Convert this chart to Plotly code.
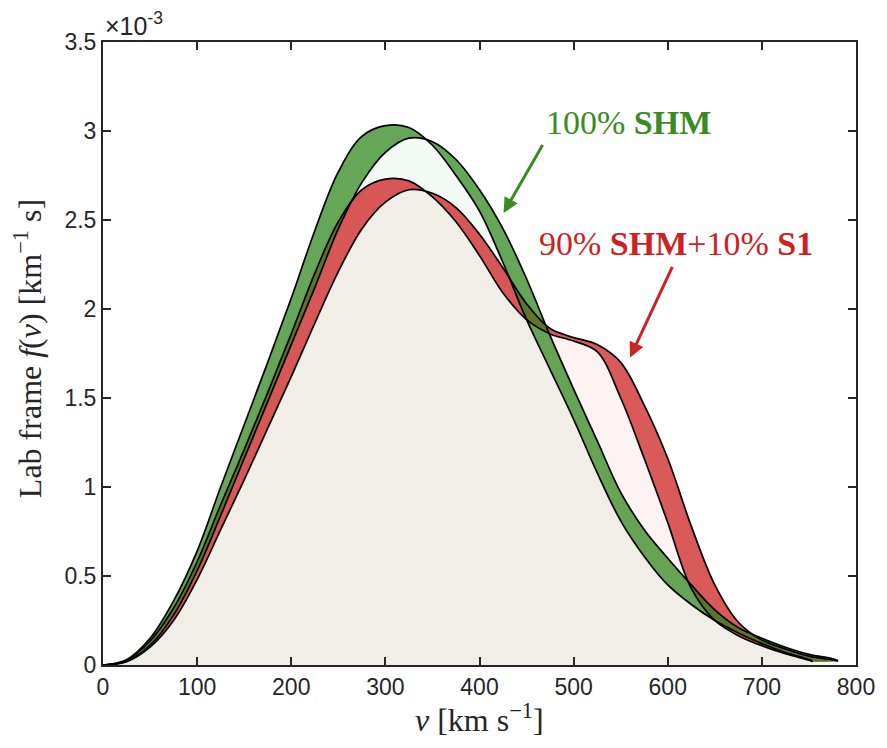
import plotly.graph_objects as go

# speed grid [km/s]
v_grid = [0, 25, 50, 75, 100, 125, 150, 175, 200, 225, 250, 275, 300, 325, 350,
          375, 400, 425, 450, 475, 500, 525, 550, 575, 600, 625, 650, 675, 700, 725, 750]

# 100% SHM, two extremes of the annual modulation  (units of 1e-3 km^-1 s)
shm_a_v = v_grid + [754]
shm_a = [0, 0.03, 0.15, 0.36, 0.64, 1.00, 1.35, 1.70, 2.06, 2.44, 2.77, 2.97, 3.03, 3.02, 2.92,
         2.75, 2.55, 2.26, 1.94, 1.66, 1.38, 1.08, 0.81, 0.61, 0.45, 0.34, 0.25, 0.18, 0.12, 0.07, 0.03,
         0.02]
shm_b_v = v_grid + [775, 781]
shm_b = [0, 0.02, 0.11, 0.28, 0.53, 0.84, 1.16, 1.48, 1.80, 2.12, 2.45, 2.71, 2.88, 2.96, 2.94,
         2.84, 2.67, 2.45, 2.17, 1.85, 1.55, 1.26, 0.97, 0.76, 0.60, 0.45, 0.31, 0.21, 0.15, 0.10, 0.06,
         0.035, 0.025]

# 90% SHM + 10% S1
mix_a_v = v_grid + [754]
mix_a = [0, 0.027, 0.135, 0.32, 0.58, 0.90, 1.21, 1.53, 1.86, 2.20, 2.49, 2.67, 2.73, 2.72, 2.63,
         2.49, 2.30, 2.09, 1.94, 1.86, 1.82, 1.76, 1.50, 1.16, 0.80, 0.43, 0.25, 0.165, 0.108, 0.063, 0.027,
         0.02]
mix_b_v = v_grid + [775, 781]
mix_b = [0, 0.018, 0.10, 0.25, 0.48, 0.76, 1.04, 1.33, 1.62, 1.92, 2.21, 2.45, 2.60, 2.67, 2.65,
         2.57, 2.42, 2.23, 2.03, 1.89, 1.84, 1.80, 1.70, 1.46, 1.16, 0.78, 0.45, 0.24, 0.14, 0.09, 0.05,
         0.028, 0.022]

x_ticks = [0, 100, 200, 300, 400, 500, 600, 700, 800]
y_ticks = [0, 0.5, 1, 1.5, 2, 2.5, 3, 3.5]
y_tick_text = ["0", "0.5", "1", "1.5", "2", "2.5", "3", "3.5"]

GREEN = (40, 130, 20)
RED = (205, 35, 35)
SERIF = "Liberation Serif"
SANS = "Liberation Sans"
AX = "#262626"


def rgba(c, a):
    return f"rgba({c[0]},{c[1]},{c[2]},{a})"


fig = go.Figure()

# faint fills under each curve
for xs, ys, c in [(shm_a_v, shm_a, GREEN), (shm_b_v, shm_b, GREEN),
                  (mix_a_v, mix_a, RED), (mix_b_v, mix_b, RED)]:
    fig.add_trace(go.Scatter(x=xs, y=ys, mode="lines", fill="tozeroy",
                             fillcolor=rgba(c, 0.026),
                             line=dict(width=0, shape="spline", smoothing=1.0),
                             hoverinfo="skip", showlegend=False))

# bands (red first, green on top)
for xa, ya, xb, yb, c, al in [(mix_a_v, mix_a, mix_b_v, mix_b, RED, 0.75),
                              (shm_a_v, shm_a, shm_b_v, shm_b, GREEN, 0.70)]:
    fig.add_trace(go.Scatter(x=list(xa) + list(xb)[::-1], y=list(ya) + list(yb)[::-1],
                             mode="lines", fill="toself", fillcolor=rgba(c, al),
                             line=dict(width=0, shape="spline", smoothing=1.0),
                             hoverinfo="skip", showlegend=False))

# outlines
for xs, ys in [(mix_a_v, mix_a), (mix_b_v, mix_b), (shm_a_v, shm_a), (shm_b_v, shm_b)]:
    fig.add_trace(go.Scatter(x=xs, y=ys, mode="lines",
                             line=dict(color="black", width=1.7, shape="spline", smoothing=1.0),
                             hoverinfo="skip", showlegend=False))

green_txt = "#3A8C22"
red_txt = "#CC2222"

annotations = [
    dict(x=558, y=3.05, xref="x", yref="y", text="100% <b>SHM</b>", showarrow=False,
         font=dict(family=SERIF, size=34, color=green_txt)),
    dict(x=609, y=2.37, xref="x", yref="y", text="90% <b>SHM</b>+10% <b>S1</b>", showarrow=False,
         font=dict(family=SERIF, size=34, color=red_txt)),
    dict(x=425.6, y=2.54, xref="x", yref="y", ax=468, ay=2.93, axref="x", ayref="y",
         text="", showarrow=True, arrowhead=2, arrowsize=1, arrowwidth=3, arrowcolor=green_txt),
    dict(x=560, y=1.728, xref="x", yref="y", ax=605.6, ay=2.245, axref="x", ayref="y",
         text="", showarrow=True, arrowhead=2, arrowsize=1, arrowwidth=3, arrowcolor=red_txt),
    dict(x=0, y=1, xref="paper", yref="paper", xanchor="left", yanchor="bottom", xshift=0, yshift=0,
         text="×10<sup>-3</sup>", showarrow=False, font=dict(family=SANS, size=25, color=AX)),
    dict(x=0, y=0.507, xref="paper", yref="paper", xanchor="center", yanchor="middle",
         xshift=-75, textangle=-90,
         text="Lab frame <i>f</i>(<i>v</i>) [km<sup>−1</sup> s]", showarrow=False,
         font=dict(family=SERIF, size=32, color=AX)),
    dict(x=0.5, y=0, xref="paper", yref="paper", xanchor="center", yanchor="middle", yshift=-53,
         text="<i>v</i> [km s<sup>−1</sup>]", showarrow=False,
         font=dict(family=SERIF, size=32, color=AX)),
]

fig.update_layout(
    width=887, height=748,
    margin=dict(l=103, r=28, t=42, b=83),
    paper_bgcolor="white", plot_bgcolor="white",
    annotations=annotations,
    xaxis=dict(range=[0, 800], tickvals=x_ticks, ticks="inside", ticklen=8, tickwidth=2,
               tickcolor=AX, showline=True, linewidth=2, linecolor=AX, mirror="ticks",
               showgrid=False, zeroline=False, tickfont=dict(family=SANS, size=23, color=AX)),
    yaxis=dict(range=[0, 3.5], tickvals=y_ticks, ticktext=y_tick_text, ticks="inside", ticklen=8,
               tickwidth=2, tickcolor=AX, showline=True, linewidth=2, linecolor=AX, mirror="ticks",
               showgrid=False, zeroline=False, tickfont=dict(family=SANS, size=23, color=AX)),
)

fig.write_html("out.html", config={"displayModeBar": False},
               post_script="document.body.style.margin='0';")
